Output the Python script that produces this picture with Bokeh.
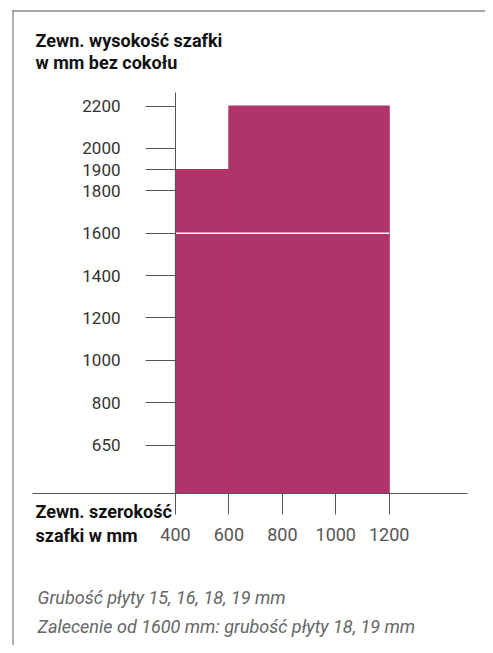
from bokeh.plotting import figure
from bokeh.models import LinearAxis, FixedTicker, Range1d, Label
from bokeh.embed import file_html
from bokeh.resources import INLINE

# ---- data ----
bar_left = [400, 600]          # cabinet width from (mm)
bar_right = [600, 1200]        # cabinet width to (mm)
bar_top = [1900, 2200]         # max external height (mm)
recommend_from = 1600          # recommendation line (mm)
x_ticks = [400, 600, 800, 1000, 1200]
x_tick_labels = ["400", "600", "800", "1000", "1200"]
y_ticks = [600, 800, 1000, 1200, 1400, 1600, 1800, 1900, 2000, 2200]
y_tick_labels = ["650", "800", "1000", "1200", "1400", "1600", "1800", "1900", "2000", "2200"]

y_title = ["Zewn. wysokość szafki", "w mm bez cokołu"]
x_title = ["Zewn. szerokość", "szafki w mm"]
notes = ["Grubość płyty 15, 16, 18, 19 mm",
         "Zalecenie od 1600 mm: grubość płyty 18, 19 mm"]

# ---- layout ----
W, H = 485, 645
ORIGIN = 0      # page position of the canvas
PXX = 0.2671    # px per mm horizontally
PXY = 0.2119    # px per mm vertically


def xd(px):
    return 400 + (px - 175) / PXX


def yd(py):
    return 2200 - (py - 105.5) / PXY


base = yd(493)
FONT = "Roboto"
BAR = "#b0336a"

p = figure(width=W, height=H, x_range=Range1d(xd(ORIGIN), xd(ORIGIN + W)),
           y_range=Range1d(yd(ORIGIN + H), yd(ORIGIN)),
           output_backend="svg", toolbar_location=None,
           x_axis_location=None, y_axis_location=None,
           min_border=0, outline_line_color=None,
           background_fill_color="white", border_fill_color="white")
for g in p.grid:
    g.visible = False

# frame lines
p.segment(x0=[xd(12)], x1=[xd(ORIGIN + W)], y0=[yd(10.5)], y1=[yd(10.5)],
          line_color="#a6a6a6", line_width=2)
p.segment(x0=[xd(12.5)], x1=[xd(12.5)], y0=[yd(10)], y1=[yd(ORIGIN + H)],
          line_color="#666666", line_width=1)

# bars
p.quad(left=bar_left, right=bar_right, bottom=base, top=bar_top,
       fill_color=BAR, line_color=BAR, line_width=1.2)
p.segment(x0=[bar_left[0]], x1=[bar_right[-1]], y0=[recommend_from], y1=[recommend_from],
          line_color="white", line_width=1.5)

axis_common = dict(major_tick_in=0, minor_tick_in=0, minor_tick_out=0,
                   axis_line_color="#555555", major_tick_line_color="#555555",
                   major_label_text_font=FONT)

xaxis = LinearAxis(fixed_location=base, bounds=(xd(32), xd(467)),
                   ticker=FixedTicker(ticks=x_ticks),
                   major_label_overrides=dict(zip(x_ticks, x_tick_labels)),
                   major_tick_out=21, major_label_standoff=13,
                   major_label_text_font_size="18px", major_label_text_color="#555555",
                   **axis_common)
p.add_layout(xaxis, "below")

yaxis = LinearAxis(fixed_location=400, bounds=(base, yd(92)),
                   ticker=FixedTicker(ticks=y_ticks),
                   major_label_overrides=dict(zip(y_ticks, y_tick_labels)),
                   major_tick_out=30, major_label_standoff=25,
                   major_label_text_font_size="17px", major_label_text_color="#333333",
                   **axis_common)
p.add_layout(yaxis, "left")

# texts
for txt, py in zip(y_title, [40, 62]):
    p.add_layout(Label(x=xd(35), y=yd(py), text=txt, text_font=FONT, text_font_style="bold",
                       text_font_size="18px", text_color="#111111", text_baseline="alphabetic"))
for txt, py in zip(x_title, [511, 535]):
    p.add_layout(Label(x=xd(35), y=yd(py), text=txt, text_font=FONT, text_font_style="bold",
                       text_font_size="18px", text_color="#111111", text_baseline="alphabetic"))
for txt, py in zip(notes, [597, 626]):
    p.add_layout(Label(x=xd(37), y=yd(py), text=txt, text_font=FONT, text_font_style="italic",
                       text_font_size="18px", text_color="#666666", text_baseline="alphabetic"))

open("out.html", "w").write(file_html(p, INLINE))
